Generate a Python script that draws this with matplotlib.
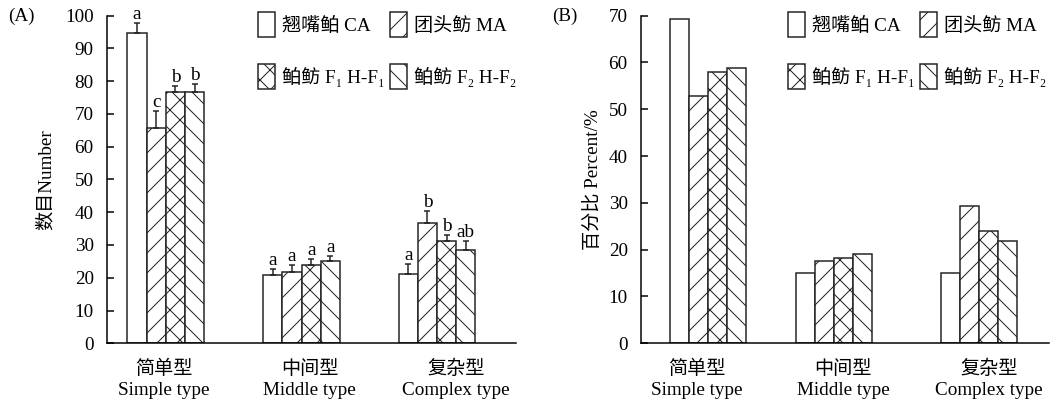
import numpy as np
import matplotlib
matplotlib.use("Agg")
import matplotlib.pyplot as plt

plt.rcParams['font.family'] = ['Liberation Serif', 'Noto Sans CJK SC', 'DejaVu Serif']
plt.rcParams['font.size'] = 11.5
plt.rcParams['hatch.linewidth'] = 0.6
plt.rcParams['axes.linewidth'] = 0.9

categories = ['简单型\nSimple type', '中间型\nMiddle type', '复杂型\nComplex type']
series_names = ['翘嘴鲌 CA', '团头鲂 MA', '鲌鲂 F₁ H-F₁', '鲌鲂 F₂ H-F₂']
hatches = ['', '//', 'xx', '\\\\']

# (A) number, mean and upper error
number_ca = [94.6, 20.7, 21.0]
number_ma = [65.8, 21.8, 36.8]
number_f1 = [76.6, 23.9, 31.2]
number_f2 = [76.7, 25.2, 28.5]
err_ca = [3.1, 1.9, 3.2]
err_ma = [5.1, 2.0, 3.6]
err_f1 = [1.8, 1.7, 1.8]
err_f2 = [2.3, 1.4, 2.8]
letters_ca = ['a', 'a', 'a']
letters_ma = ['c', 'a', 'b']
letters_f1 = ['b', 'a', 'b']
letters_f2 = ['b', 'a', 'ab']

# (B) percent
percent_ca = [69.3, 15.1, 15.1]
percent_ma = [52.8, 17.5, 29.4]
percent_f1 = [58.0, 18.2, 24.0]
percent_f2 = [58.9, 19.1, 21.9]

numbers = [number_ca, number_ma, number_f1, number_f2]
errs = [err_ca, err_ma, err_f1, err_f2]
letters = [letters_ca, letters_ma, letters_f1, letters_f2]
percents = [percent_ca, percent_ma, percent_f1, percent_f2]

centers_a = np.array([0.017, 0.945, 1.87])
centers_b = np.array([0.074, 0.937, 1.93])
w = 0.131
offsets = (np.arange(4) - 1.5) * w

fig = plt.figure(figsize=(8.75, 406 / 120), dpi=120)
ax1 = fig.add_axes([107 / 1050, 1 - 343.3 / 406, 409 / 1050, 327.7 / 406])
ax2 = fig.add_axes([641 / 1050, 1 - 343.3 / 406, 408 / 1050, 327.7 / 406])


def style(ax, ylim, step):
    ax.set_xlim(-0.385, 2.41)
    ax.set_ylim(0, ylim)
    ax.set_yticks(range(0, ylim + 1, step))
    ax.set_xticks([0, 1, 2])
    ax.set_xticklabels(categories, linespacing=1.3)
    ax.spines['top'].set_visible(False)
    ax.spines['right'].set_visible(False)
    ax.tick_params(axis='y', direction='in', length=4.2, width=0.9, pad=8)
    ax.tick_params(axis='x', length=0, pad=10)


def draw_bars(ax, centers, data):
    bars = []
    for i in range(4):
        b = ax.bar(centers + offsets[i], data[i], w, color='white', edgecolor='#222222',
                   linewidth=0.9, hatch=hatches[i], label=series_names[i], zorder=2)
        bars.append(b)
    return bars


def add_legend(ax, bars, x):
    order = [0, 2, 1, 3]
    fig.legend([bars[i] for i in order], [series_names[i] for i in order],
               loc='upper left', bbox_to_anchor=(x / 1050, 1 - 12 / 406), ncol=2,
               frameon=False, borderpad=0, borderaxespad=0, handlelength=0.887,
               handleheight=1.65, handletextpad=0.365, columnspacing=0.26,
               labelspacing=1.4)


bars_a = draw_bars(ax1, centers_a, numbers)
for i in range(4):
    x = centers_a + offsets[i]
    ax1.errorbar(x, numbers[i], yerr=[np.zeros(3), errs[i]], fmt='none', ecolor='#222222',
                 elinewidth=0.9, capsize=1.6, capthick=0.9, zorder=3)
    for j in range(3):
        ax1.annotate(letters[i][j], (x[j], numbers[i][j] + errs[i][j]), xytext=(0, 2.5),
                     textcoords='offset points', ha='center', va='baseline')
style(ax1, 100, 10)
ax1.set_ylabel('数目Number', labelpad=6)
add_legend(ax1, bars_a, 258)
fig.text(8 / 1050, 1 - 21 / 406, '(A)', ha='left', va='baseline')

bars_b = draw_bars(ax2, centers_b, percents)
style(ax2, 70, 10)
ax2.set_ylabel('百分比 Percent/%', labelpad=4)
add_legend(ax2, bars_b, 788)
fig.text(552 / 1050, 1 - 21 / 406, '(B)', ha='left', va='baseline')

fig.savefig('out.png', dpi=120)
